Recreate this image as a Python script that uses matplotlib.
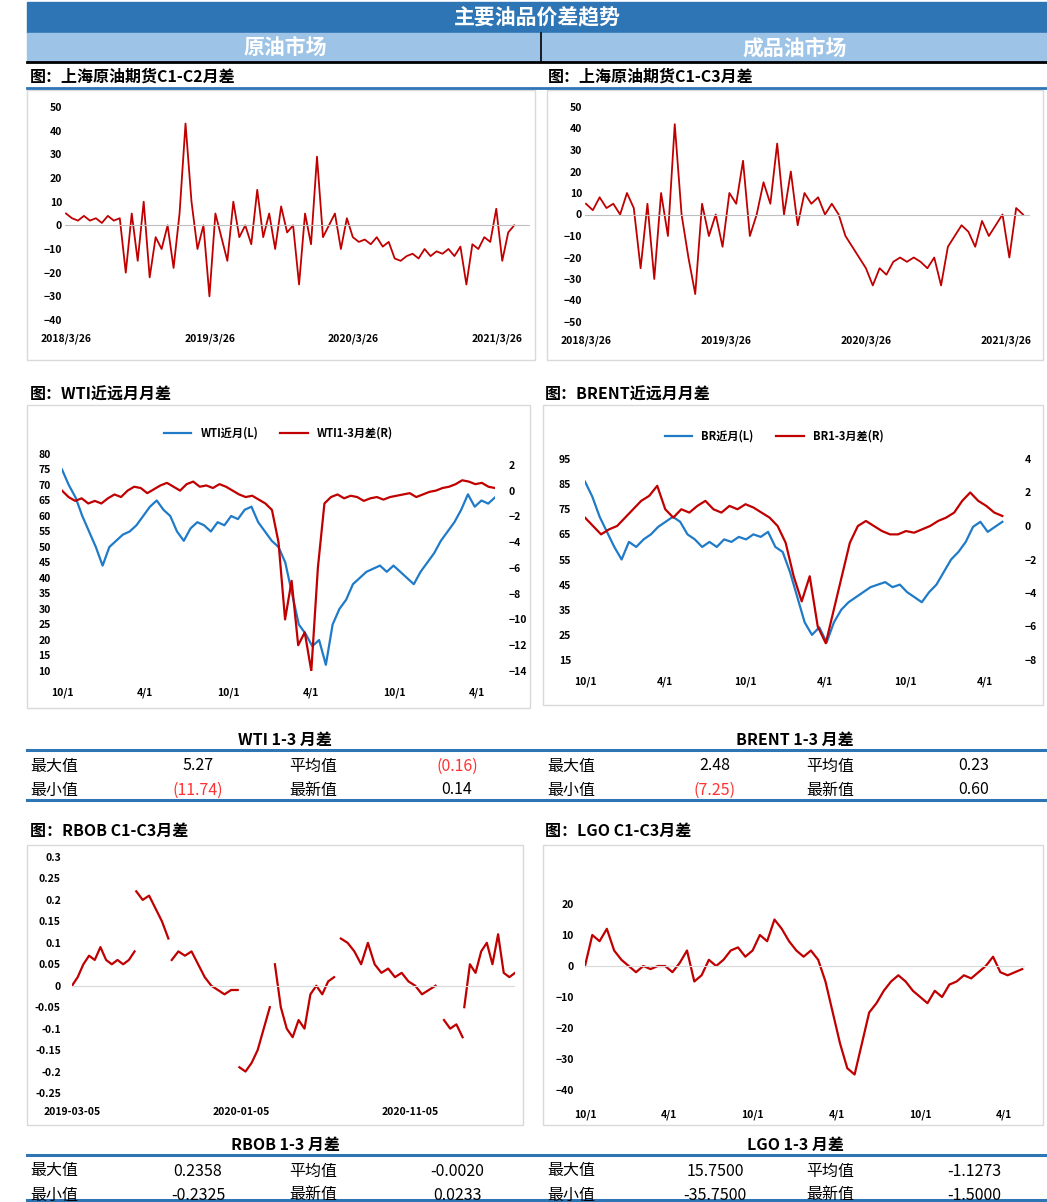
import numpy as np
import matplotlib
matplotlib.use('Agg')
import matplotlib.pyplot as plt
from matplotlib.patches import Rectangle

plt.rcParams['font.family'] = ['Noto Sans CJK SC', 'DejaVu Sans']

W, H = 1047, 1202

# ---- data ----
sc12_ticks = ['2018/3/26', '2019/3/26', '2020/3/26', '2021/3/26']
sc12 = [5, 3, 2, 4, 2, 3, 1, 4, 2, 3, -20, 5, -15, 10, -22, -5, -10, 0, -18, 5,
        43, 10, -10, 0, -30, 5, -5, -15, 10, -5, 0, -8, 15, -5, 5, -10, 8, -3, 0, -25,
        5, -8, 29, -5, 0, 5, -10, 3, -5, -7, -6, -8, -5, -9, -7, -14, -15, -13, -12, -14,
        -10, -13, -11, -12, -10, -13, -9, -25, -8, -10, -5, -7, 7, -15, -3, 0]
sc13_ticks = sc12_ticks
sc13 = [5, 2, 8, 3, 5, 0, 10, 3, -25, 5, -30, 10, -10, 42, 0, -20, -37, 5, -10, 0,
        -15, 10, 5, 25, -10, 0, 15, 5, 33, 0, 20, -5, 10, 5, 8, 0, 5, 0, -10, -15,
        -20, -25, -33, -25, -28, -22, -20, -22, -20, -22, -25, -20, -33, -15, -10, -5, -8, -15, -3, -10,
        -5, 0, -20, 3, 0]

date_ticks = ['10/1', '4/1', '10/1', '4/1', '10/1', '4/1']
wti_near = [75, 70, 66, 60, 55, 50, 44, 50, 52, 54, 55, 57, 60, 63, 65, 62, 60, 55, 52, 56,
            58, 57, 55, 58, 57, 60, 59, 62, 63, 58, 55, 52, 50, 45, 35, 25, 22, 18, 20, 12,
            25, 30, 33, 38, 40, 42, 43, 44, 42, 44, 42, 40, 38, 42, 45, 48, 52, 55, 58, 62,
            67, 63, 65, 64, 66]
wti_spread = [0, -0.5, -0.8, -0.6, -1, -0.8, -1, -0.6, -0.3, -0.5, 0, 0.3, 0.2, -0.2, 0.1, 0.4,
              0.6, 0.3, 0, 0.5, 0.7, 0.3, 0.4, 0.2, 0.5, 0.3, 0, -0.3, -0.5, -0.4, -0.7, -1, -1.5, -4,
              -10, -7, -12, -11, -14, -6, -1, -0.5, -0.3, -0.6, -0.4, -0.5, -0.8, -0.6, -0.5, -0.7,
              -0.5, -0.4, -0.3, -0.2, -0.5, -0.3, -0.1, 0, 0.2, 0.3, 0.5, 0.8, 0.7, 0.5, 0.6, 0.3, 0.2]
br_near = [86, 80, 72, 66, 60, 55, 62, 60, 63, 65, 68, 70, 72, 70, 65, 63, 60, 62, 60, 63,
           62, 64, 63, 65, 64, 66, 60, 58, 50, 40, 30, 25, 28, 22, 30, 35, 38, 40, 42, 44,
           45, 46, 44, 45, 42, 40, 38, 42, 45, 50, 55, 58, 62, 68, 70, 66, 68, 70]
br_spread = [0.5, 0, -0.5, -0.2, 0, 0.5, 1, 1.5, 1.8, 2.4, 1.0, 0.5, 1, 0.8, 1.2, 1.5, 1.0, 0.8,
             1.2, 1.0, 1.3, 1.1, 0.8, 0.5, 0, -1, -3, -4.5, -3, -6, -7, -5, -3, -1, 0, 0.3, 0,
             -0.3, -0.5, -0.5, -0.3, -0.4, -0.2, 0, 0.3, 0.5, 0.8, 1.5, 2, 1.5, 1.2, 0.8, 0.6]

rbob_ticks = ['2019-03-05', '2020-01-05', '2020-11-05']
# (start month, end month, values) -- gaps between contracts
rbob_segments = [
    (0.0, 3.7, [0, 0.02, 0.05, 0.07, 0.06, 0.09, 0.06, 0.05, 0.06, 0.05, 0.06, 0.08]),
    (3.8, 5.7, [0.22, 0.2, 0.21, 0.18, 0.15, 0.11]),
    (5.9, 9.8, [0.06, 0.08, 0.07, 0.08, 0.05, 0.02, 0.0, -0.01, -0.02, -0.01, -0.01]),
    (9.9, 11.7, [-0.19, -0.2, -0.18, -0.15, -0.1, -0.05]),
    (12.0, 15.5, [0.05, -0.05, -0.1, -0.12, -0.08, -0.1, -0.02, 0.0, -0.02, 0.01, 0.02]),
    (15.9, 21.5, [0.11, 0.1, 0.08, 0.05, 0.1, 0.05, 0.03, 0.04, 0.02, 0.03, 0.01, 0.0, -0.02, -0.01, 0.0]),
    (22.0, 23.1, [-0.08, -0.1, -0.09, -0.12]),
    (23.2, 26.2, [-0.05, 0.05, 0.03, 0.08, 0.1, 0.05, 0.12, 0.03, 0.02, 0.03]),
]
lgo = [0, 10, 8, 12, 5, 2, 0, -2, 0, -1, 0, 0, -2, 1, 5, -5, -3, 2, 0, 2,
       5, 6, 3, 5, 10, 8, 15, 12, 8, 5, 3, 5, 2, -5, -15, -25, -33, -35, -25, -15,
       -12, -8, -5, -3, -5, -8, -10, -12, -8, -10, -6, -5, -3, -4, -2, 0, 3, -2, -3, -2, -1]

wti_stats = [('最大值', '5.27', '平均值', '(0.16)'), ('最小值', '(11.74)', '最新值', '0.14')]
br_stats = [('最大值', '2.48', '平均值', '0.23'), ('最小值', '(7.25)', '最新值', '0.60')]
rbob_stats = [('最大值', '0.2358', '平均值', '-0.0020'), ('最小值', '-0.2325', '最新值', '0.0233')]
lgo_stats = [('最大值', '15.7500', '平均值', '-1.1273'), ('最小值', '-35.7500', '最新值', '-1.5000')]

RED = '#C00000'
BLUE = '#1F7BC8'
DARK = '#2E75B6'

fig = plt.figure(figsize=(W / 100, H / 100), dpi=100)


def fx(x):
    return x / W


def fy(y):
    return 1 - y / H


def rect(x0, y0, x1, y1, **kw):
    fig.patches.append(Rectangle((fx(x0), fy(y1)), fx(x1 - x0), (y1 - y0) / H,
                                 transform=fig.transFigure, **kw))


def hline(x0, x1, y, color, lw):
    fig.add_artist(plt.Line2D([fx(x0), fx(x1)], [fy(y), fy(y)], color=color, lw=lw,
                              transform=fig.transFigure))


def txt(x, y, s, size=11, ha='left', color='black', weight='normal'):
    fig.text(fx(x), fy(y), s, fontsize=size, ha=ha, va='center', color=color, weight=weight)


def axes_px(x0, y0, x1, y1):
    ax = fig.add_axes([fx(x0), fy(y1), fx(x1 - x0), (y1 - y0) / H])
    for s in ax.spines.values():
        s.set_visible(False)
    ax.tick_params(length=0, labelsize=7.5, pad=2)
    ax.patch.set_alpha(0)
    return ax


def bold_ticks(ax):
    for lab in ax.get_yticklabels() + ax.get_xticklabels():
        lab.set_fontweight('bold')


# header
rect(27, 2, 1047, 33, color=DARK)
txt(537, 18, '主要油品价差趋势', size=15, ha='center', color='white', weight='bold')
rect(27, 33, 1047, 62, color='#9DC3E6')
fig.add_artist(plt.Line2D([fx(541), fx(541)], [fy(33), fy(62)], color='black', lw=1.2,
                          transform=fig.transFigure))
txt(285, 48, '原油市场', size=15, ha='center', color='white', weight='bold')
txt(795, 48, '成品油市场', size=15, ha='center', color='white', weight='bold')
hline(27, 1047, 62, 'black', 2)

# section titles
txt(30, 77, '图：上海原油期货C1-C2月差', size=11.5, weight='bold')
txt(548, 77, '图：上海原油期货C1-C3月差', size=11.5, weight='bold')
hline(27, 1047, 88, DARK, 2)
txt(30, 395, '图：WTI近远月月差', size=11.5, weight='bold')
txt(545, 395, '图：BRENT近远月月差', size=11.5, weight='bold')
txt(30, 831, '图：RBOB C1-C3月差', size=11.5, weight='bold')
txt(545, 831, '图：LGO C1-C3月差', size=11.5, weight='bold')

# panel borders
for (a, b, c, d) in [(27, 90, 535, 360), (547, 90, 1043, 360), (27, 405, 530, 708),
                     (543, 405, 1043, 705), (27, 845, 523, 1125), (543, 845, 1043, 1125)]:
    rect(a, b, c, d, fill=False, ec='#D9D9D9', lw=1)

# SC C1-C2
ax = axes_px(65, 107, 530, 320)
x = np.linspace(0, 3.12, len(sc12))
ax.plot(x, sc12, color=RED, lw=1.3)
ax.axhline(0, color='#BFBFBF', lw=0.8)
ax.set_ylim(-40, 50)
ax.set_yticks(range(-40, 51, 10))
ax.set_xlim(-0.007, 3.23)
ax.set_xticks([0, 1, 2, 3], sc12_ticks)
ax.tick_params(axis='x', pad=10)
bold_ticks(ax)

# SC C1-C3
ax = axes_px(585, 107, 1030, 322)
x = np.linspace(0, 3.12, len(sc13))
ax.plot(x, sc13, color=RED, lw=1.3)
ax.axhline(0, color='#BFBFBF', lw=0.8)
ax.set_ylim(-50, 50)
ax.set_yticks(range(-50, 51, 10))
ax.set_xlim(-0.007, 3.17)
ax.set_xticks([0, 1, 2, 3], sc13_ticks)
ax.tick_params(axis='x', pad=10)
bold_ticks(ax)

# WTI
ax = axes_px(62, 454, 495, 671)
x = np.linspace(0, 31.3, len(wti_near))
ax.plot(x, wti_near, color=BLUE, lw=1.6, label='WTI近月(L)')
ax.set_ylim(10, 80)
ax.set_yticks(range(10, 81, 5))
ax.set_xlim(0, 31.3)
ax.set_xticks([0, 6, 12, 18, 24, 30], date_ticks)
ax.tick_params(axis='x', pad=12)
ax.tick_params(axis='y', pad=8)
bold_ticks(ax)
ax2 = ax.twinx()
for s in ax2.spines.values():
    s.set_visible(False)
x = np.linspace(0, 31.3, len(wti_spread))
ax2.plot(x, wti_spread, color=RED, lw=1.6, label='WTI1-3月差(R)')
ax2.set_ylim(-14, 2.84)
ax2.set_yticks(range(-14, 3, 2))
ax2.tick_params(length=0, labelsize=7.5, pad=10)
bold_ticks(ax2)
h1, l1 = ax.get_legend_handles_labels()
h2, l2 = ax2.get_legend_handles_labels()
ax2.legend(h1 + h2, l1 + l2, loc='lower center', bbox_to_anchor=(0.5, 1.02), ncol=2,
           frameon=False, prop={'size': 8, 'weight': 'bold'}, handlelength=2.5)

# BRENT
ax = axes_px(585, 459, 1005, 660)
x = np.linspace(0, 31.3, len(br_near))
ax.plot(x, br_near, color=BLUE, lw=1.6, label='BR近月(L)')
ax.set_ylim(15, 95)
ax.set_yticks(range(15, 96, 10))
ax.set_xlim(0, 31.5)
ax.set_xticks([0, 6, 12, 18, 24, 30], date_ticks)
ax.tick_params(axis='x', pad=12)
ax.tick_params(axis='y', pad=10)
bold_ticks(ax)
ax2 = ax.twinx()
for s in ax2.spines.values():
    s.set_visible(False)
x = np.linspace(0, 31.3, len(br_spread))
ax2.plot(x, br_spread, color=RED, lw=1.6, label='BR1-3月差(R)')
ax2.set_ylim(-8, 4)
ax2.set_yticks(range(-8, 5, 2))
ax2.tick_params(length=0, labelsize=7.5, pad=14)
bold_ticks(ax2)
h1, l1 = ax.get_legend_handles_labels()
h2, l2 = ax2.get_legend_handles_labels()
ax2.legend(h1 + h2, l1 + l2, loc='lower center', bbox_to_anchor=(0.45, 1.03), ncol=2,
           frameon=False, prop={'size': 8, 'weight': 'bold'}, handlelength=2.5)

# RBOB
ax = axes_px(72, 857, 515, 1093)
for s0, s1, vals in rbob_segments:
    ax.plot(np.linspace(s0, s1, len(vals)), vals, color=RED, lw=1.6)
ax.axhline(0, color='#D9D9D9', lw=0.8)
ax.set_ylim(-0.25, 0.3)
ax.set_yticks([-0.25, -0.2, -0.15, -0.1, -0.05, 0, 0.05, 0.1, 0.15, 0.2, 0.25, 0.3],
              ['-0.25', '-0.2', '-0.15', '-0.1', '-0.05', '0', '0.05', '0.1', '0.15', '0.2', '0.25', '0.3'])
ax.set_xlim(0, 26.2)
ax.set_xticks([0, 10, 20], rbob_ticks)
ax.tick_params(axis='x', pad=10)
ax.tick_params(axis='y', pad=8)
bold_ticks(ax)

# LGO
ax = axes_px(585, 904, 1025, 1090)
x = np.linspace(0, 31.3, len(lgo))
ax.plot(x, lgo, color=RED, lw=1.6)
ax.axhline(0, color='#D9D9D9', lw=0.8)
ax.set_ylim(-40, 20)
ax.set_yticks(range(-40, 21, 10))
ax.set_xlim(0, 31.5)
ax.set_xticks([0, 6, 12, 18, 24, 30], date_ticks)
ax.tick_params(axis='x', pad=14)
ax.tick_params(axis='y', pad=8)
bold_ticks(ax)


# stat tables
def table(x_off, title_x, title, rows, top):
    txt(title_x, top, title, size=11.5, ha='center', weight='bold')
    for i, (a, b, c, d) in enumerate(rows):
        y = top + 26 + i * 24
        for val, xx, ha in [(a, 30, 'left'), (b, 198, 'center'), (c, 289, 'left'), (d, 457, 'center')]:
            col = '#FF3333' if val.startswith('(') else 'black'
            txt(x_off + xx, y, val, size=11.5, ha=ha, color=col)


hline(27, 1047, 750, DARK, 2.2)
hline(27, 1047, 800, DARK, 2.2)
table(0, 285, 'WTI 1-3 月差', wti_stats, 740)
table(517, 795, 'BRENT 1-3 月差', br_stats, 740)
hline(27, 1047, 1155, DARK, 2.2)
hline(27, 1047, 1200, DARK, 2.2)
table(0, 285, 'RBOB 1-3 月差', rbob_stats, 1145)
table(517, 795, 'LGO 1-3 月差', lgo_stats, 1145)

fig.savefig('out.png', dpi=100)
